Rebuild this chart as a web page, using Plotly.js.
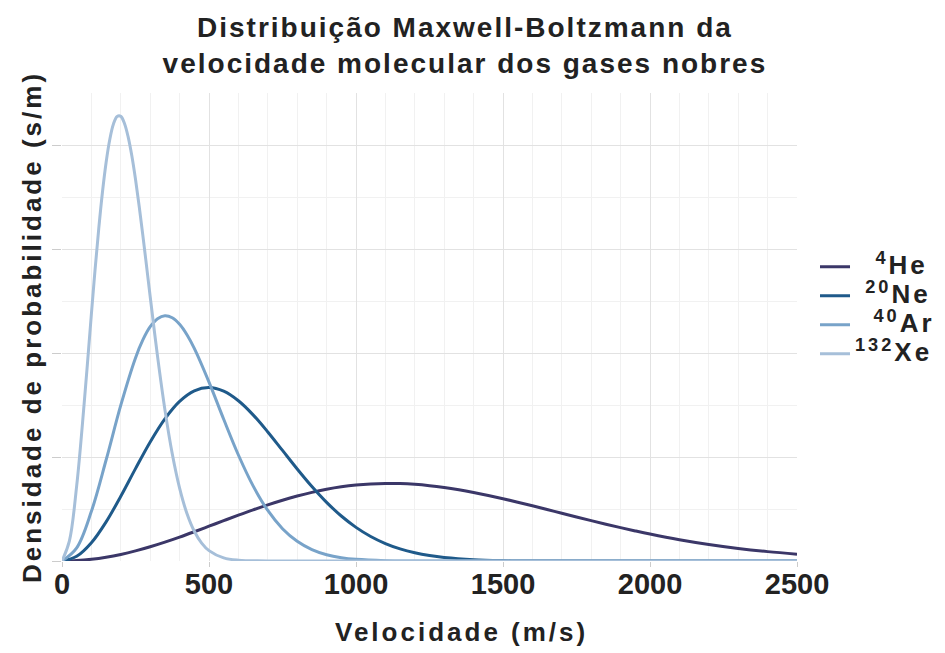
<!DOCTYPE html>
<html>
<head>
<meta charset="utf-8">
<script src="https://cdn.plot.ly/plotly-3.0.1.min.js"></script>
<style>
  html, body { margin: 0; padding: 0; background: #fff; }
  #chart { width: 945px; height: 653px; }
  .gtitle { letter-spacing: 2px; }
  .ytitle { letter-spacing: 3px; }
  .annotation-text { letter-spacing: 3px; }
  .legendtext { letter-spacing: 3px; }
</style>
</head>
<body>
<div id="chart"></div>
<script>
// Velocidade (m/s) and density (s/m)
const speedsHe = [0,50,100,150,200,250,300,350,400,450,500,550,600,650,700,750,800,850,900,950,1000,1050,1100,1150,1200,1250,1300,1350,1400,1450,1500,1550,1600,1650,1700,1750,1800,1850,1900,1950,2000,2100,2200,2300,2400,2500];
const densHe = [0,4.084e-6,1.624e-5,3.617e-5,6.339e-5,9.727e-5,1.3699e-4,1.8164e-4,2.3017e-4,2.8149e-4,3.3443e-4,3.8786e-4,4.4066e-4,4.9172e-4,5.4004e-4,5.8471e-4,6.2494e-4,6.6006e-4,6.895e-4,7.1296e-4,7.3017e-4,7.4108e-4,7.4583e-4,7.4433e-4,7.3711e-4,7.2452e-4,7.0698e-4,6.851e-4,6.5939e-4,6.3056e-4,5.9892e-4,5.6543e-4,5.3059e-4,4.9484e-4,4.5891e-4,4.232e-4,3.879e-4,3.5367e-4,3.2058e-4,2.8905e-4,2.5922e-4,2.0523e-4,1.5916e-4,1.2097e-4,9.015e-5,6.59e-5];

const speedsNe = [0,50,100,150,200,250,300,350,400,450,500,550,600,650,700,750,800,850,900,950,1000,1050,1100,1150,1200,1250,1300,1400,1500,1600,2500];
const densNe = [0,4.528e-5,1.7571e-4,3.7592e-4,6.2273e-4,8.8855e-4,1.1451e-3,1.367e-3,1.5348e-3,1.6363e-3,1.6677e-3,1.6327e-3,1.5406e-3,1.4053e-3,1.2412e-3,1.0633e-3,8.8487e-4,7.1604e-4,5.6371e-4,4.326e-4,3.2347e-4,2.3579e-4,1.6765e-4,1.1629e-4,7.884e-5,5.218e-5,3.376e-5,1.317e-5,4.69e-6,1.5e-6,0];

const speedsAr = [0,50,100,150,200,250,275,300,325,350,375,400,425,450,500,550,600,650,700,750,800,850,900,950,1000,1100,1200,2500];
const densAr = [0,1.2678e-4,4.7733e-4,9.7094e-4,1.4987e-3,1.9529e-3,2.1256e-3,2.2525e-3,2.3303e-3,2.3585e-3,2.339e-3,2.2759e-3,2.1754e-3,2.0443e-3,1.72e-3,1.3626e-3,1.0193e-3,7.2256e-4,4.8605e-4,3.1083e-4,1.892e-4,1.0964e-4,6.069e-5,3.204e-5,1.617e-5,3.6e-6,7e-7,0];

const speedsXe = [0,25,50,75,100,112.5,125,137.5,150,162.5,175,187.5,200,212.5,225,237.5,250,262.5,275,287.5,300,325,350,375,400,425,450,475,500,550,600,700,2500];
const densXe = [0,1.906e-4,7.252e-4,1.5015e-3,2.3758e-3,2.8014e-3,3.1959e-3,3.5434e-3,3.8323e-3,4.0534e-3,4.2013e-3,4.2746e-3,4.2753e-3,4.2072e-3,4.0776e-3,3.8956e-3,3.6698e-3,3.4112e-3,3.1308e-3,2.8378e-3,2.5405e-3,1.9672e-3,1.4555e-3,1.0312e-3,7.0045e-4,4.566e-4,2.8588e-4,1.7211e-4,9.968e-5,2.98e-5,7.7e-6,3e-7,0];

const seriesNames = ['\u00A0\u00A0<sup>4</sup>He', '\u00A0<sup>20</sup>Ne', '\u00A0\u2009<sup>40</sup>Ar', '<sup>132</sup>Xe'];
const xTickVals = [0,500,1000,1500,2000,2500];
const xTickText = ['0','500','1000','1500','2000','2500'];

const colors = ['#3b3768', '#1f5a8a', '#78a3c9', '#a6bfd9'];
const xs = [speedsHe, speedsNe, speedsAr, speedsXe];
const ys = [densHe, densNe, densAr, densXe];

const traces = xs.map((x, i) => ({
  type: 'scatter', mode: 'lines', x: x, y: ys[i],
  name: '<span style="font-size:26px">' + seriesNames[i] + '</span>',
  line: { color: colors[i], width: 3, shape: 'spline', smoothing: 1 },
  hoverinfo: 'skip'
}));

const bold = 'Liberation Sans, Arial, sans-serif';

const layout = {
  width: 945, height: 653,
  margin: { l: 62, r: 148, t: 93, b: 92, autoexpand: false },
  paper_bgcolor: '#ffffff', plot_bgcolor: '#ffffff',
  font: { family: bold, color: '#222', size: 20, weight: 'bold' },
  title: {
    text: 'Distribuição Maxwell-Boltzmann da<br>velocidade molecular dos gases nobres',
    font: { family: bold, size: 28, weight: 'bold', color: '#222' },
    x: 0.492, xanchor: 'center', xref: 'container',
    y: 0.944, yanchor: 'top', yref: 'container'
  },
  xaxis: {
    range: [0, 2500], tickvals: xTickVals, ticktext: xTickText,
    ticks: 'outside', ticklen: 5, tickcolor: '#cccccc', tickwidth: 1,
    ticklabelstandoff: -8,
    tickfont: { family: bold, size: 29, weight: 'bold', color: '#222' },
    showgrid: true, gridcolor: '#e2e2e2', gridwidth: 1,
    minor: { dtick: 100, showgrid: true, gridcolor: '#f1f1f1', gridwidth: 1 },
    zeroline: false, showline: false, fixedrange: true, automargin: false
  },
  yaxis: {
    range: [0, 0.0045], dtick: 0.001, tick0: 0,
    showticklabels: false,
    ticks: 'outside', ticklen: 9, tickcolor: '#cccccc', tickwidth: 1,
    showgrid: true, gridcolor: '#e2e2e2', gridwidth: 1,
    minor: { dtick: 0.0005, showgrid: true, gridcolor: '#f1f1f1', gridwidth: 1 },
    zeroline: false, showline: false, fixedrange: true, automargin: false,
    title: { text: 'Densidade de probabilidade (s/m)', standoff: 2,
      font: { family: bold, size: 26, weight: 'bold', color: '#222' } }
  },
  showlegend: true,
  legend: {
    x: 1.0245, xanchor: 'left', y: 0.536, yanchor: 'middle',
    font: { family: bold, size: 20, weight: 'bold', color: '#222' },
    bgcolor: 'rgba(0,0,0,0)', borderwidth: 0, tracegroupgap: 0
  },
  annotations: [{
    text: 'Velocidade (m/s)', xref: 'paper', yref: 'paper',
    x: 0.543, y: -0.152, xanchor: 'center', yanchor: 'middle', showarrow: false,
    font: { family: bold, size: 26, weight: 'bold', color: '#222' }
  }]
};

Plotly.newPlot('chart', traces, layout, { displayModeBar: false, staticPlot: true });
</script>
</body>
</html>
